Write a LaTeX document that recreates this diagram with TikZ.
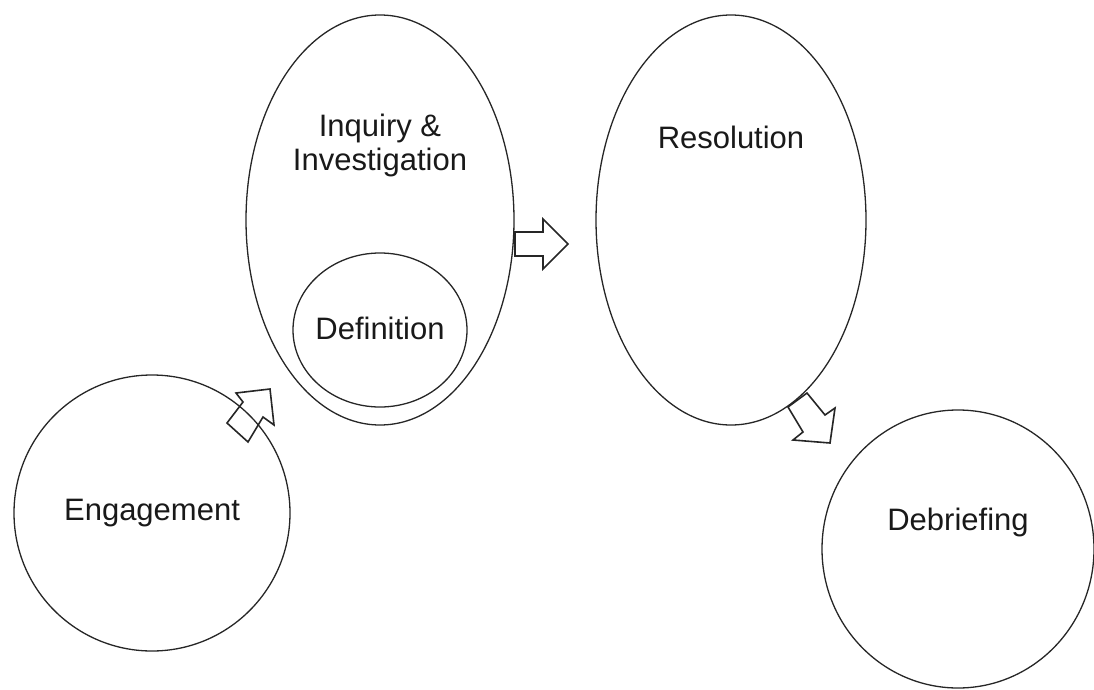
\documentclass[tikz,border=0pt]{standalone}
\usepackage{fontspec}
\setmainfont{Liberation Sans}
\begin{document}
\begin{tikzpicture}[x=1pt,y=-1pt,
  blob/.style={draw=black!85,line width=1.3pt},
  lbl/.style={font=\fontsize{31}{37}\selectfont,text=black!90,align=center},
  blockarrow/.style={draw=black!85,line width=1.6pt,line join=miter,fill=white}]
\useasboundingbox (0,0) rectangle (1094,690);
% block arrows
\draw[blockarrow] (227,423) -- (243,402) -- (236,393) -- (270,389) -- (274,425) -- (263,417) -- (248,442) -- cycle;
\draw[blockarrow] (515,232) -- (543,232) -- (543,219) -- (568,244) -- (543,269) -- (543,256) -- (515,256) -- cycle;
\draw[blockarrow] (788,407) -- (807,393) -- (825,415) -- (835,408) -- (830,443) -- (793,440) -- (803,432) -- cycle;
% shapes
\draw[blob] (152,513) ellipse [x radius=138,y radius=138];
\draw[blob] (380,220) ellipse [x radius=134,y radius=205];
\draw[blob] (380,330) ellipse [x radius=87,y radius=77];
\draw[blob] (731,220) ellipse [x radius=135,y radius=205];
\draw[blob] (958,549) ellipse [x radius=136,y radius=139];
% labels
\node[lbl] (eng) at (152,513) {Engagement};
\node[lbl] (inq) at (380,145) {Inquiry \&\\[-3pt]Investigation};
\node[lbl] (def) at (380,328) {Definition};
\node[lbl] (res) at (731,137) {Resolution};
\node[lbl] (deb) at (958,522) {Debriefing};
\end{tikzpicture}
\end{document}
